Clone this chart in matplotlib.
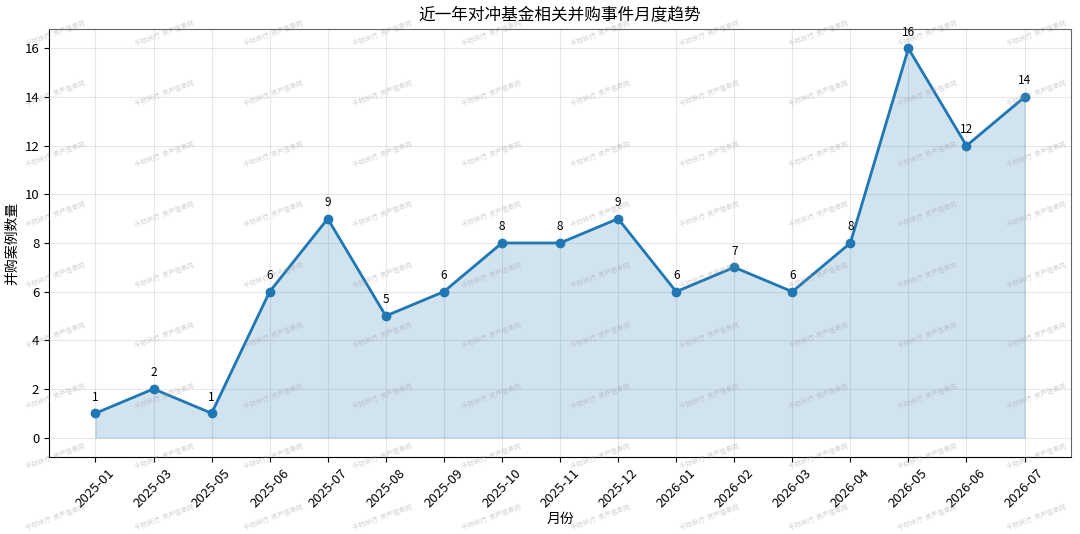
import matplotlib
matplotlib.use("Agg")
import matplotlib.pyplot as plt
import numpy as np

plt.rcParams['font.family'] = ['Noto Sans CJK SC', 'DejaVu Sans']
plt.rcParams['axes.unicode_minus'] = False

months = ["2025-01", "2025-03", "2025-05", "2025-06", "2025-07", "2025-08", "2025-09",
          "2025-10", "2025-11", "2025-12", "2026-01", "2026-02", "2026-03", "2026-04",
          "2026-05", "2026-06", "2026-07"]
counts = [1, 2, 1, 6, 9, 5, 6, 8, 8, 9, 6, 7, 6, 8, 16, 12, 14]
title = "近一年对冲基金相关并购事件月度趋势"
xlabel = "月份"
ylabel = "并购案例数量"
watermark = "千际投行  资产信息网"

fig = plt.figure(figsize=(10.8, 5.34), dpi=100)
ax = fig.add_axes([49/1080, 1-457/534, (1071-49)/1080, (457-29)/534])

x = np.arange(len(months))
ax.fill_between(x, counts, color='#1f77b4', alpha=0.2)
ax.plot(x, counts, marker='o', color='#1f77b4', linewidth=2, markersize=6)
for xi, v in zip(x, counts):
    ax.annotate(str(v), (xi, v), xytext=(0, 7), textcoords='offset points',
                ha='center', va='bottom', fontsize=8.5)

ax.set_xticks(x)
ax.set_xticklabels(months, rotation=45, fontsize=9.5)
ax.tick_params(axis='y', labelsize=9.5)
ax.set_title(title, fontsize=12, pad=7)
ax.set_xlabel(xlabel, fontsize=10, labelpad=1)
ax.set_ylabel(ylabel, fontsize=10, labelpad=4)
ax.grid(True, alpha=0.3)
ax.set_axisbelow(True)
for s in ['top', 'right']:
    ax.spines[s].set_color('#666666')

# tiled watermark
for row in range(9):
    yc = 33 + row * 60.5
    for col in range(10):
        xc = 55 + col * 109
        fig.text(xc/1080, 1 - yc/534, watermark, fontsize=4.8, color='#999999',
                 alpha=0.45, rotation=20, ha='center', va='center', zorder=10)

fig.savefig("out.png", dpi=100)
